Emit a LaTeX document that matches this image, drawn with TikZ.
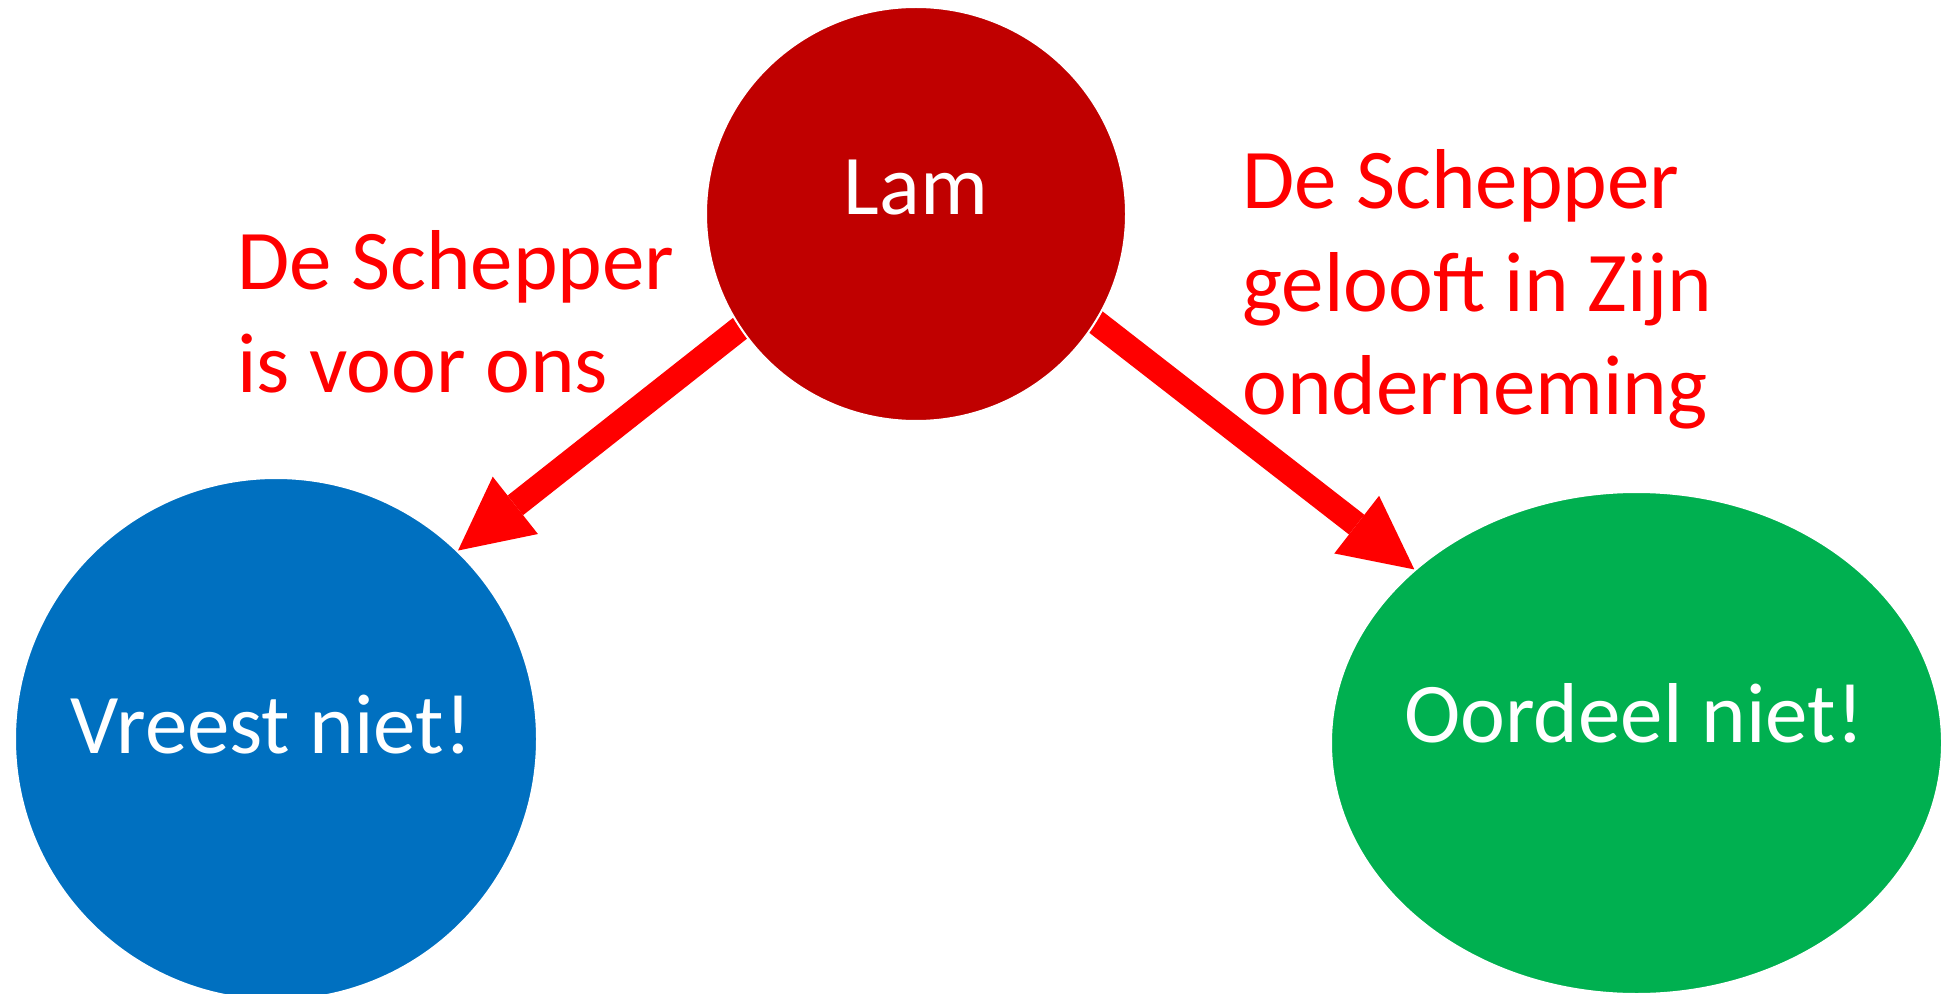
\documentclass[tikz,border=0pt]{standalone}
\usepackage{fontspec}
\setmainfont{Carlito}
\usetikzlibrary{arrows.meta,shapes.geometric,backgrounds}
\definecolor{lamred}{HTML}{C00000}
\definecolor{vblue}{HTML}{0070C0}
\definecolor{ogreen}{HTML}{00B050}
\definecolor{arrred}{HTML}{FF0000}
\begin{document}
\begin{tikzpicture}[x=0.5pt,y=-0.5pt,
  blob/.style={ellipse, inner sep=0pt, draw=white, line width=1pt},
  bigtext/.style={font=\fontsize{42.5pt}{51.5pt}\selectfont, inner sep=0pt},
  redlabel/.style={bigtext, text=arrred, align=left, anchor=base west},
  conn/.style={draw=arrred, line width=12.5pt, shorten <=-8pt,
    -{Triangle[width=36.5pt,length=36.5pt,line width=0pt]}}]
\useasboundingbox (0,0) rectangle (1942,994);
\clip (0,0) rectangle (1942,994);
\node[blob, fill=lamred, minimum width=210pt, minimum height=207pt] (lam) at (916,214) {};
\node[blob, fill=vblue, minimum width=261pt, minimum height=261pt] (vreest) at (276,739) {};
\node[blob, fill=ogreen, minimum width=305.5pt, minimum height=251pt] (oordeel) at (1636.5,743) {};
\node[bigtext, text=white, anchor=base] (lamtext) at (916,215) {Lam};
\node[bigtext, text=white, anchor=base] (vreesttext) at (271,753) {Vreest niet!};
\node[bigtext, text=white, anchor=base] (oordeeltext) at (1634,742) {Oordeel niet!};
\node[redlabel] (lbl1) at (237,393) {De Schepper\\is voor ons};
\node[redlabel] (lbl2) at (1242,415) {De Schepper\\gelooft in Zijn\\onderneming};
\begin{scope}[on background layer]
\draw[conn] (lam.213.8) -- (vreest.46);
\draw[conn] (lam.329.5) -- (oordeel.142.2);
\end{scope}
\end{tikzpicture}
\end{document}
